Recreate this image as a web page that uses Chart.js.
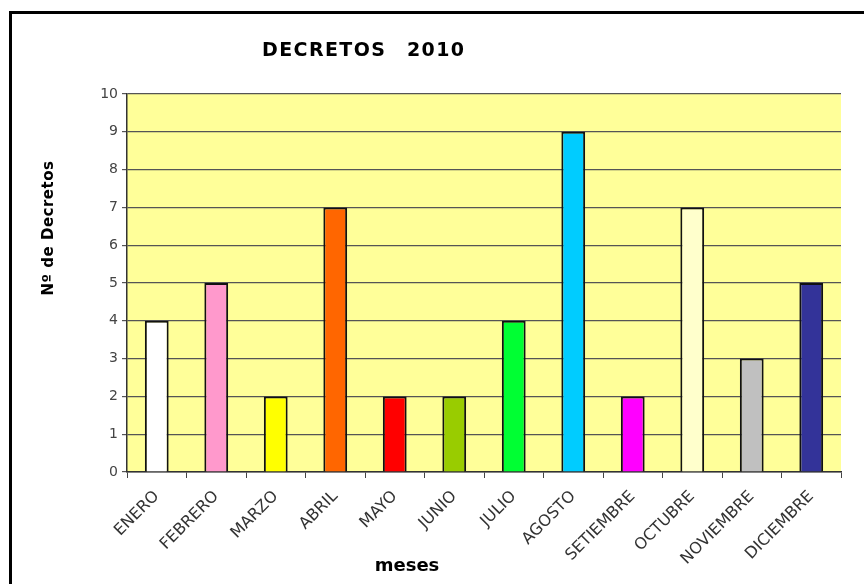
<!DOCTYPE html>
<html>
<head>
<meta charset="utf-8">
<script src="https://cdn.jsdelivr.net/npm/chart.js@4"></script>
<style>
  html, body { margin: 0; padding: 0; background: #fff; }
  canvas { display: block; }
</style>
</head>
<body>
<canvas id="decretos" width="864" height="584"></canvas>
<script>
const meses = ['ENERO', 'FEBRERO', 'MARZO', 'ABRIL', 'MAYO', 'JUNIO', 'JULIO',
  'AGOSTO', 'SETIEMBRE', 'OCTUBRE', 'NOVIEMBRE', 'DICIEMBRE'];
const decretos = [4, 5, 2, 7, 2, 2, 4, 9, 2, 7, 3, 5];
const colores = ['#FFFFFF', '#FF99CC', '#FFFF00', '#FF6600', '#FF0000', '#99CC00',
  '#00FF33', '#00CCFF', '#FF00FF', '#FFFFCC', '#C0C0C0', '#333399'];

// frame, plot background and the free-standing texts
const decor = {
  id: 'decor',
  beforeDraw(chart) {
    const { ctx, chartArea: a } = chart;
    ctx.save();
    ctx.fillStyle = '#fff';
    ctx.fillRect(0, 0, chart.width, chart.height);
    ctx.fillStyle = '#FFFF99';
    ctx.fillRect(a.left, a.top, a.right - a.left, a.bottom - a.top);
    ctx.restore();
  },
  afterDraw(chart) {
    const ctx = chart.ctx;
    ctx.save();
    ctx.strokeStyle = '#000';
    ctx.lineWidth = 3;
    ctx.strokeRect(10.5, 12.5, 870, 600);

    ctx.fillStyle = '#000';
    ctx.textBaseline = 'alphabetic';
    ctx.font = 'bold 19px "DejaVu Sans"';
    ctx.letterSpacing = '1.4px';
    ctx.textAlign = 'left';
    ctx.fillText('DECRETOS', 262, 56);
    ctx.fillText('2010', 407, 56);

    ctx.font = 'bold 18px "DejaVu Sans"';
    ctx.letterSpacing = '0px';
    ctx.textAlign = 'center';
    ctx.fillText('meses', 407, 571);

    ctx.translate(53, 228);
    ctx.rotate(-Math.PI / 2);
    ctx.font = 'bold 15px "DejaVu Sans"';
    ctx.letterSpacing = '0.5px';
    ctx.fillText('Nº de Decretos', 0, 0);
    ctx.restore();
  }
};

new Chart(document.getElementById('decretos'), {
  type: 'bar',
  data: {
    labels: meses,
    datasets: [{
      data: decretos,
      backgroundColor: colores,
      borderColor: '#111',
      borderWidth: 2,
      barPercentage: 0.4,
      categoryPercentage: 1
    }]
  },
  options: {
    responsive: false,
    animation: false,
    layout: { padding: { top: 94, right: 23, left: 0, bottom: 0 } },
    plugins: { legend: { display: false }, tooltip: { enabled: false } },
    scales: {
      x: {
        offset: true,
        grid: { drawOnChartArea: false, tickLength: 6, color: '#444', offset: true },
        border: { color: '#333', width: 1.5 },
        ticks: {
          autoSkip: false, minRotation: 45, maxRotation: 45, padding: 9,
          color: '#333', font: { family: 'DejaVu Sans', size: 16 }
        },
        afterFit: s => { s.height = 112; }
      },
      y: {
        min: 0, max: 10,
        grid: { color: '#555', lineWidth: 1.2, tickLength: 5 },
        border: { color: '#333', width: 1.5 },
        ticks: {
          stepSize: 1, padding: 4, color: '#444',
          font: { family: 'DejaVu Sans', size: 14 }
        },
        afterFit: s => { s.width = 127; }
      }
    }
  },
  plugins: [decor]
});
</script>
</body>
</html>
